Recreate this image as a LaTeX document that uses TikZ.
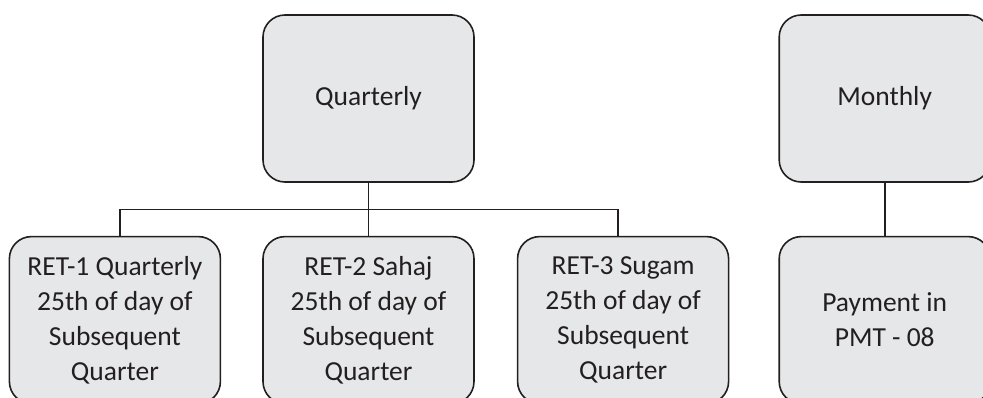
\documentclass[tikz,border=0pt]{standalone}
\usepackage{fontspec}
\setmainfont{Carlito}
\usepackage{tikz}
\usetikzlibrary{positioning,calc}

\definecolor{boxfill}{HTML}{E6E7E8}
\definecolor{ink}{HTML}{231F20}

\begin{document}
\begin{tikzpicture}[
        x=1pt, y=-1pt,
        box/.style={draw=ink, rounded corners=22pt, fill=boxfill, align=center,
          text=ink, font=\fontsize{27.5}{35}\selectfont, line width=1.6pt,
          minimum width=211pt, minimum height=167pt, inner sep=0pt},
        link/.style={draw=ink, line width=1.6pt}
      ]
        \useasboundingbox (0,0) rectangle (983,397);
        \clip (0,0) rectangle (983,397);
        \node[box] (q) at (368.5,98.5) {Quarterly};
        \node[box, below=53pt of q] (r2) {RET-2 Sahaj\\25th of day of\\Subsequent\\Quarter};
        \node[box, left=41pt of r2] (r1) {RET-1 Quarterly\\25th of day of\\Subsequent\\Quarter};
        \node[box, right=42pt of r2] (r3) {RET-3 Sugam\\25th of day of\\Subsequent\\Quarter};
        \node[box, right=49pt of r3] (pay) {Payment in\\PMT - 08};
        \node[box, above=53pt of pay] (m) {Monthly};
        \coordinate (bar) at ($(q.south)!0.5!(r2.north)$);
        \draw[link] (q) -- (r2);
        \draw[link] ([xshift=5pt]r1.north) |- (bar) -| ([xshift=-5pt]r3.north);
        \draw[link] (m) -- (pay);
      \end{tikzpicture}
\end{document}
